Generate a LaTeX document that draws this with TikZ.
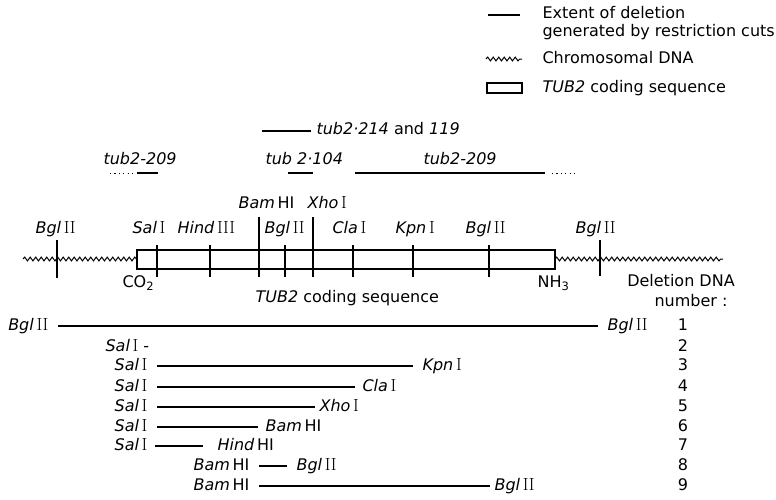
\documentclass[tikz,border=0pt]{standalone}
\usepackage{fontspec}
\usetikzlibrary{decorations.pathmorphing}
\newfontfamily\lab{DejaVu Sans}[ItalicFont={DejaVu Sans Oblique}]
\newcommand\labfont{\lab\fontsize{16}{19}\selectfont}
\newcommand\romfont{\rmfamily\fontsize{17.5}{19}\selectfont}
\newcommand\RomI{{\romfont I}}
\newcommand\RomII{{\romfont II}}
\newcommand\RomIII{{\romfont III}}
\newcommand\enz[2]{\textit{#1}\,#2}
\begin{document}
\begin{tikzpicture}[x=1pt,y=-1pt,line width=1.1pt,
  every node/.style={font=\labfont,inner sep=0pt,text height=11.5pt,text depth=3.5pt},
  wavy/.style={decorate,decoration={snake,segment length=5.5pt,amplitude=1.9pt}},
  dotline/.style={line width=1pt,dash pattern=on 1.2pt off 3.2pt},
  lw/.style={anchor=west},
  le/.style={anchor=east,inner xsep=9pt},
  lr/.style={anchor=west,inner xsep=9pt},
  num/.style={anchor=center}]
\useasboundingbox (0,0) rectangle (776,499);

% ---------- legend ----------
\coordinate (legL1) at (488,15); \coordinate (legL2) at (520,15);
\draw (legL1) -- (legL2);
\node[lw] (legA) at (542,14) {Extent of deletion};
\node[lw] (legB) at (542,32) {generated by restriction cuts};
\coordinate (legW1) at (486,59); \coordinate (legW2) at (522,59);
\draw[wavy,line width=1pt] (legW1) -- (legW2);
\node[lw] (legC) at (542,59) {Chromosomal DNA};
\draw (487,83) rectangle (522,93);
\node[lw] (legD) at (542,88) {\textit{TUB2} coding sequence};

% ---------- mutations ----------
\coordinate (m214a) at (262,131); \coordinate (m214b) at (311,131);
\draw (m214a) -- (m214b);
\node[lw] (m214) at (316,130) {\textit{tub2·214} and \textit{119}};

\node[lw] (m209a) at (103,160) {\textit{tub2-209}};
\coordinate (u1a) at (110,173); \coordinate (u1b) at (133,173);
\coordinate (u1c) at (137,173); \coordinate (u1d) at (158,173);
\draw[dotline] (u1a) -- (u1b);
\draw (u1c) -- (u1d);

\node[lw] (m104) at (265,160) {\textit{tub 2·104}};
\coordinate (u2a) at (288,173); \coordinate (u2b) at (313,173);
\draw (u2a) -- (u2b);

\node[lw] (m209b) at (423,160) {\textit{tub2-209}};
\coordinate (u3a) at (355,173); \coordinate (u3b) at (545,173);
\coordinate (u3c) at (552,173); \coordinate (u3d) at (578,173);
\draw (u3a) -- (u3b);
\draw[dotline] (u3c) -- (u3d);

% ---------- map ----------
\coordinate (wl1) at (23,259); \coordinate (wl2) at (137,259);
\coordinate (wr1) at (555,259); \coordinate (wr2) at (723,259);
\draw[wavy,line width=1pt] (wl1) -- (wl2);
\draw[wavy,line width=1pt] (wr1) -- (wr2);
\draw[line width=1.2pt] (137,250) rectangle (555,269);

% ticks
\draw (57,240) -- (57,278);
\draw (157,245) -- (157,277);
\draw (210,245) -- (210,277);
\draw (259,217) -- (259,277);
\draw (285,245) -- (285,277);
\draw (313,217) -- (313,277);
\draw (353,245) -- (353,277);
\draw (413,245) -- (413,277);
\draw (489,245) -- (489,277);
\draw (600,240) -- (600,276);

% site labels
\node[lw] (sBgl1) at (35,229) {\enz{Bgl}{\RomII}};
\node[lw] (sSal) at (132,229) {\enz{Sal}{\RomI}};
\node[lw] (sHind) at (177,229) {\enz{Hind}{\RomIII}};
\node[lw] (sBam) at (238,204) {\enz{Bam}{HI}};
\node[lw] (sXho) at (307,204) {\enz{Xho}{\RomI}};
\node[lw] (sBgl2) at (264,229) {\enz{Bgl}{\RomII}};
\node[lw] (sCla) at (332,229) {\enz{Cla}{\RomI}};
\node[lw] (sKpn) at (395,229) {\enz{Kpn}{\RomI}};
\node[lw] (sBgl3) at (465,229) {\enz{Bgl}{\RomII}};
\node[lw] (sBgl4) at (575,229) {\enz{Bgl}{\RomII}};

\node[lw] (co2) at (122,283) {CO\raisebox{-3pt}{\fontsize{11.5}{12}\selectfont 2}};
\node[lw] (nh3) at (537,283) {NH\raisebox{-3pt}{\fontsize{11.5}{12}\selectfont 3}};
\node[lw] (tubl) at (255,298) {\textit{TUB2} coding sequence};
\node[anchor=center] (delh) at (681,282) {Deletion DNA};
\node[anchor=center] (deln) at (691,302) {number :};

% ---------- deletions ----------
% row 1
\node[le] (d1l) at (58,326) {\enz{Bgl}{\RomII}};
\node[lr] (d1r) at (598,326) {\enz{Bgl}{\RomII}};
\draw (d1l.east) -- (d1r.west);
\node[num] (n1) at (683,326) {1};
% row 2
\node[lw] (d2l) at (105,347) {\enz{Sal}{\RomI} -};
\node[num] (n2) at (683,347) {2};
% row 3
\node[le] (d3l) at (157,366) {\enz{Sal}{\RomI}};
\node[lr] (d3r) at (413,366) {\enz{Kpn}{\RomI}};
\draw (d3l.east) -- (d3r.west);
\node[num] (n3) at (683,366) {3};
% row 4
\node[le] (d4l) at (157,387) {\enz{Sal}{\RomI}};
\node[lr,inner xsep=7pt] (d4r) at (355,387) {\enz{Cla}{\RomI}};
\draw (d4l.east) -- (d4r.west);
\node[num] (n4) at (683,387) {4};
% row 5
\node[le] (d5l) at (157,407) {\enz{Sal}{\RomI}};
\node[lr,inner xsep=4pt] (d5r) at (315,407) {\enz{Xho}{\RomI}};
\draw (d5l.east) -- (d5r.west);
\node[num] (n5) at (683,407) {5};
% row 6
\node[le] (d6l) at (157,427) {\enz{Sal}{\RomI}};
\node[lr,inner xsep=7pt] (d6r) at (258,427) {\enz{Bam}{HI}};
\draw (d6l.east) -- (d6r.west);
\node[num] (n6) at (683,427) {6};
% row 7
\node[le,inner xsep=7pt] (d7l) at (155,446) {\enz{Sal}{\RomI}};
\node[lr,inner xsep=14pt] (d7r) at (203,446) {\enz{Hind}{HI}};
\draw (d7l.east) -- (d7r.west);
\node[num] (n7) at (683,446) {7};
% row 8
\node[le] (d8l) at (259,466) {\enz{Bam}{HI}};
\node[lr] (d8r) at (287,466) {\enz{Bgl}{\RomII}};
\draw (d8l.east) -- (d8r.west);
\node[num] (n8) at (683,466) {8};
% row 9
\node[le] (d9l) at (259,486) {\enz{Bam}{HI}};
\node[lr,inner xsep=4pt] (d9r) at (490,486) {\enz{Bgl}{\RomII}};
\draw (d9l.east) -- (d9r.west);
\node[num] (n9) at (683,486) {9};
\end{tikzpicture}
\end{document}
